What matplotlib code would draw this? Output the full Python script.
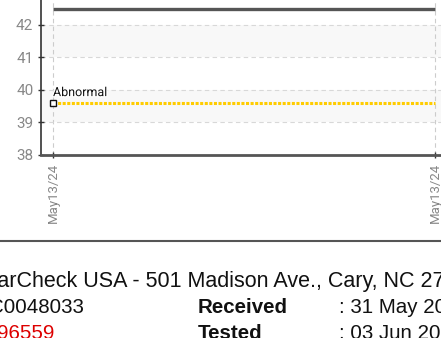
import matplotlib.pyplot as plt
import matplotlib.patheffects as pe

# data
x_pos = [0, 1]
x_labels = ["May13/24", "May13/24"]
upper_vals = [42.5, 42.5]
abnormal_vals = [39.6, 39.6]
y_ticks = [38, 39, 40, 41, 42]

W, H = 441, 338
fig = plt.figure(figsize=(W / 100, H / 100), dpi=100)
fig.patch.set_facecolor("white")


def fx(px):
    return px / W


def fy(py):
    return 1 - py / H


# chart area: spine at x=41, bottom at y=155, top runs off the picture
ax = fig.add_axes([fx(41), fy(155), 1 - fx(41), fy(0) - fy(155)])
ax.set_xlim(-12 / 382, 1 + 6 / 382)
ax.set_ylim(38, 38 + 155 / 32.5)

# alternating shaded bands
for lo in (39, 41):
    ax.axhspan(lo, lo + 1, color="#f8f8f8", zorder=0, lw=0)

ax.grid(True, axis="y", ls=(0, (4, 3)), color="#d8d8d8", lw=0.8)
for xv in x_pos:
    ax.axvline(xv, ls=(0, (4, 3)), color="#cccccc", lw=0.8, zorder=1)

ax.plot(x_pos, upper_vals, color="#555555", lw=2.4, solid_capstyle="butt", zorder=3)
ax.plot(x_pos, abnormal_vals, color="#ffcc00", lw=2.2, ls=(0, (1, 0.5)),
        dash_capstyle="butt", zorder=3)
ax.plot(x_pos[0], abnormal_vals[0], marker="s", ms=4.5, mfc="white", mec="#111111",
        mew=1.0, zorder=4)
ax.text(x_pos[0], abnormal_vals[0] + 0.12, "Abnormal", fontsize=9, family="Roboto",
        color="#111111", ha="left", va="bottom", zorder=5,
        path_effects=[pe.withStroke(linewidth=2, foreground="white")])

ax.set_yticks(y_ticks)
ax.set_yticklabels([str(t) for t in y_ticks], family="Roboto", fontsize=11, color="#888888")
ax.set_xticks(x_pos)
ax.set_xticklabels(x_labels, rotation=90, family="Roboto", fontsize=9.5, color="#888888")
ax.tick_params(axis="both", direction="inout", length=5, width=1, color="#333333", pad=3)

for s in ("top", "right"):
    ax.spines[s].set_visible(False)
ax.spines["left"].set_color("#333333")
ax.spines["left"].set_linewidth(1.2)
ax.spines["bottom"].set_color("#555555")
ax.spines["bottom"].set_linewidth(2)
ax.set_facecolor("white")

# separator line under the chart
fig.add_artist(plt.Line2D([0, 1], [fy(240.5), fy(240.5)], color="#555555", lw=1.5))

# report text below
font = "Liberation Sans"
fs = 14.8
fig.text(fx(-23), fy(287), "StarCheck USA - 501 Madison Ave., Cary, NC 27513",
         fontsize=15.5, family=font, color="#111111", va="baseline")
fig.text(fx(-11), fy(313), "C0048033", fontsize=fs, family=font, color="#111111", va="baseline")
fig.text(fx(-3), fy(339), "96559", fontsize=fs, family=font, color="#dd0000", va="baseline")
fig.text(fx(198), fy(313), "Received", fontsize=fs, family=font, weight="bold",
         color="#111111", va="baseline")
fig.text(fx(198), fy(339), "Tested", fontsize=fs, family=font, weight="bold",
         color="#111111", va="baseline")
fig.text(fx(339), fy(313), ": 31 May 2024", fontsize=fs, family=font, color="#111111",
         va="baseline")
fig.text(fx(339), fy(339), ": 03 Jun 2024", fontsize=fs, family=font, color="#111111",
         va="baseline")

fig.savefig("out.png", dpi=100)
